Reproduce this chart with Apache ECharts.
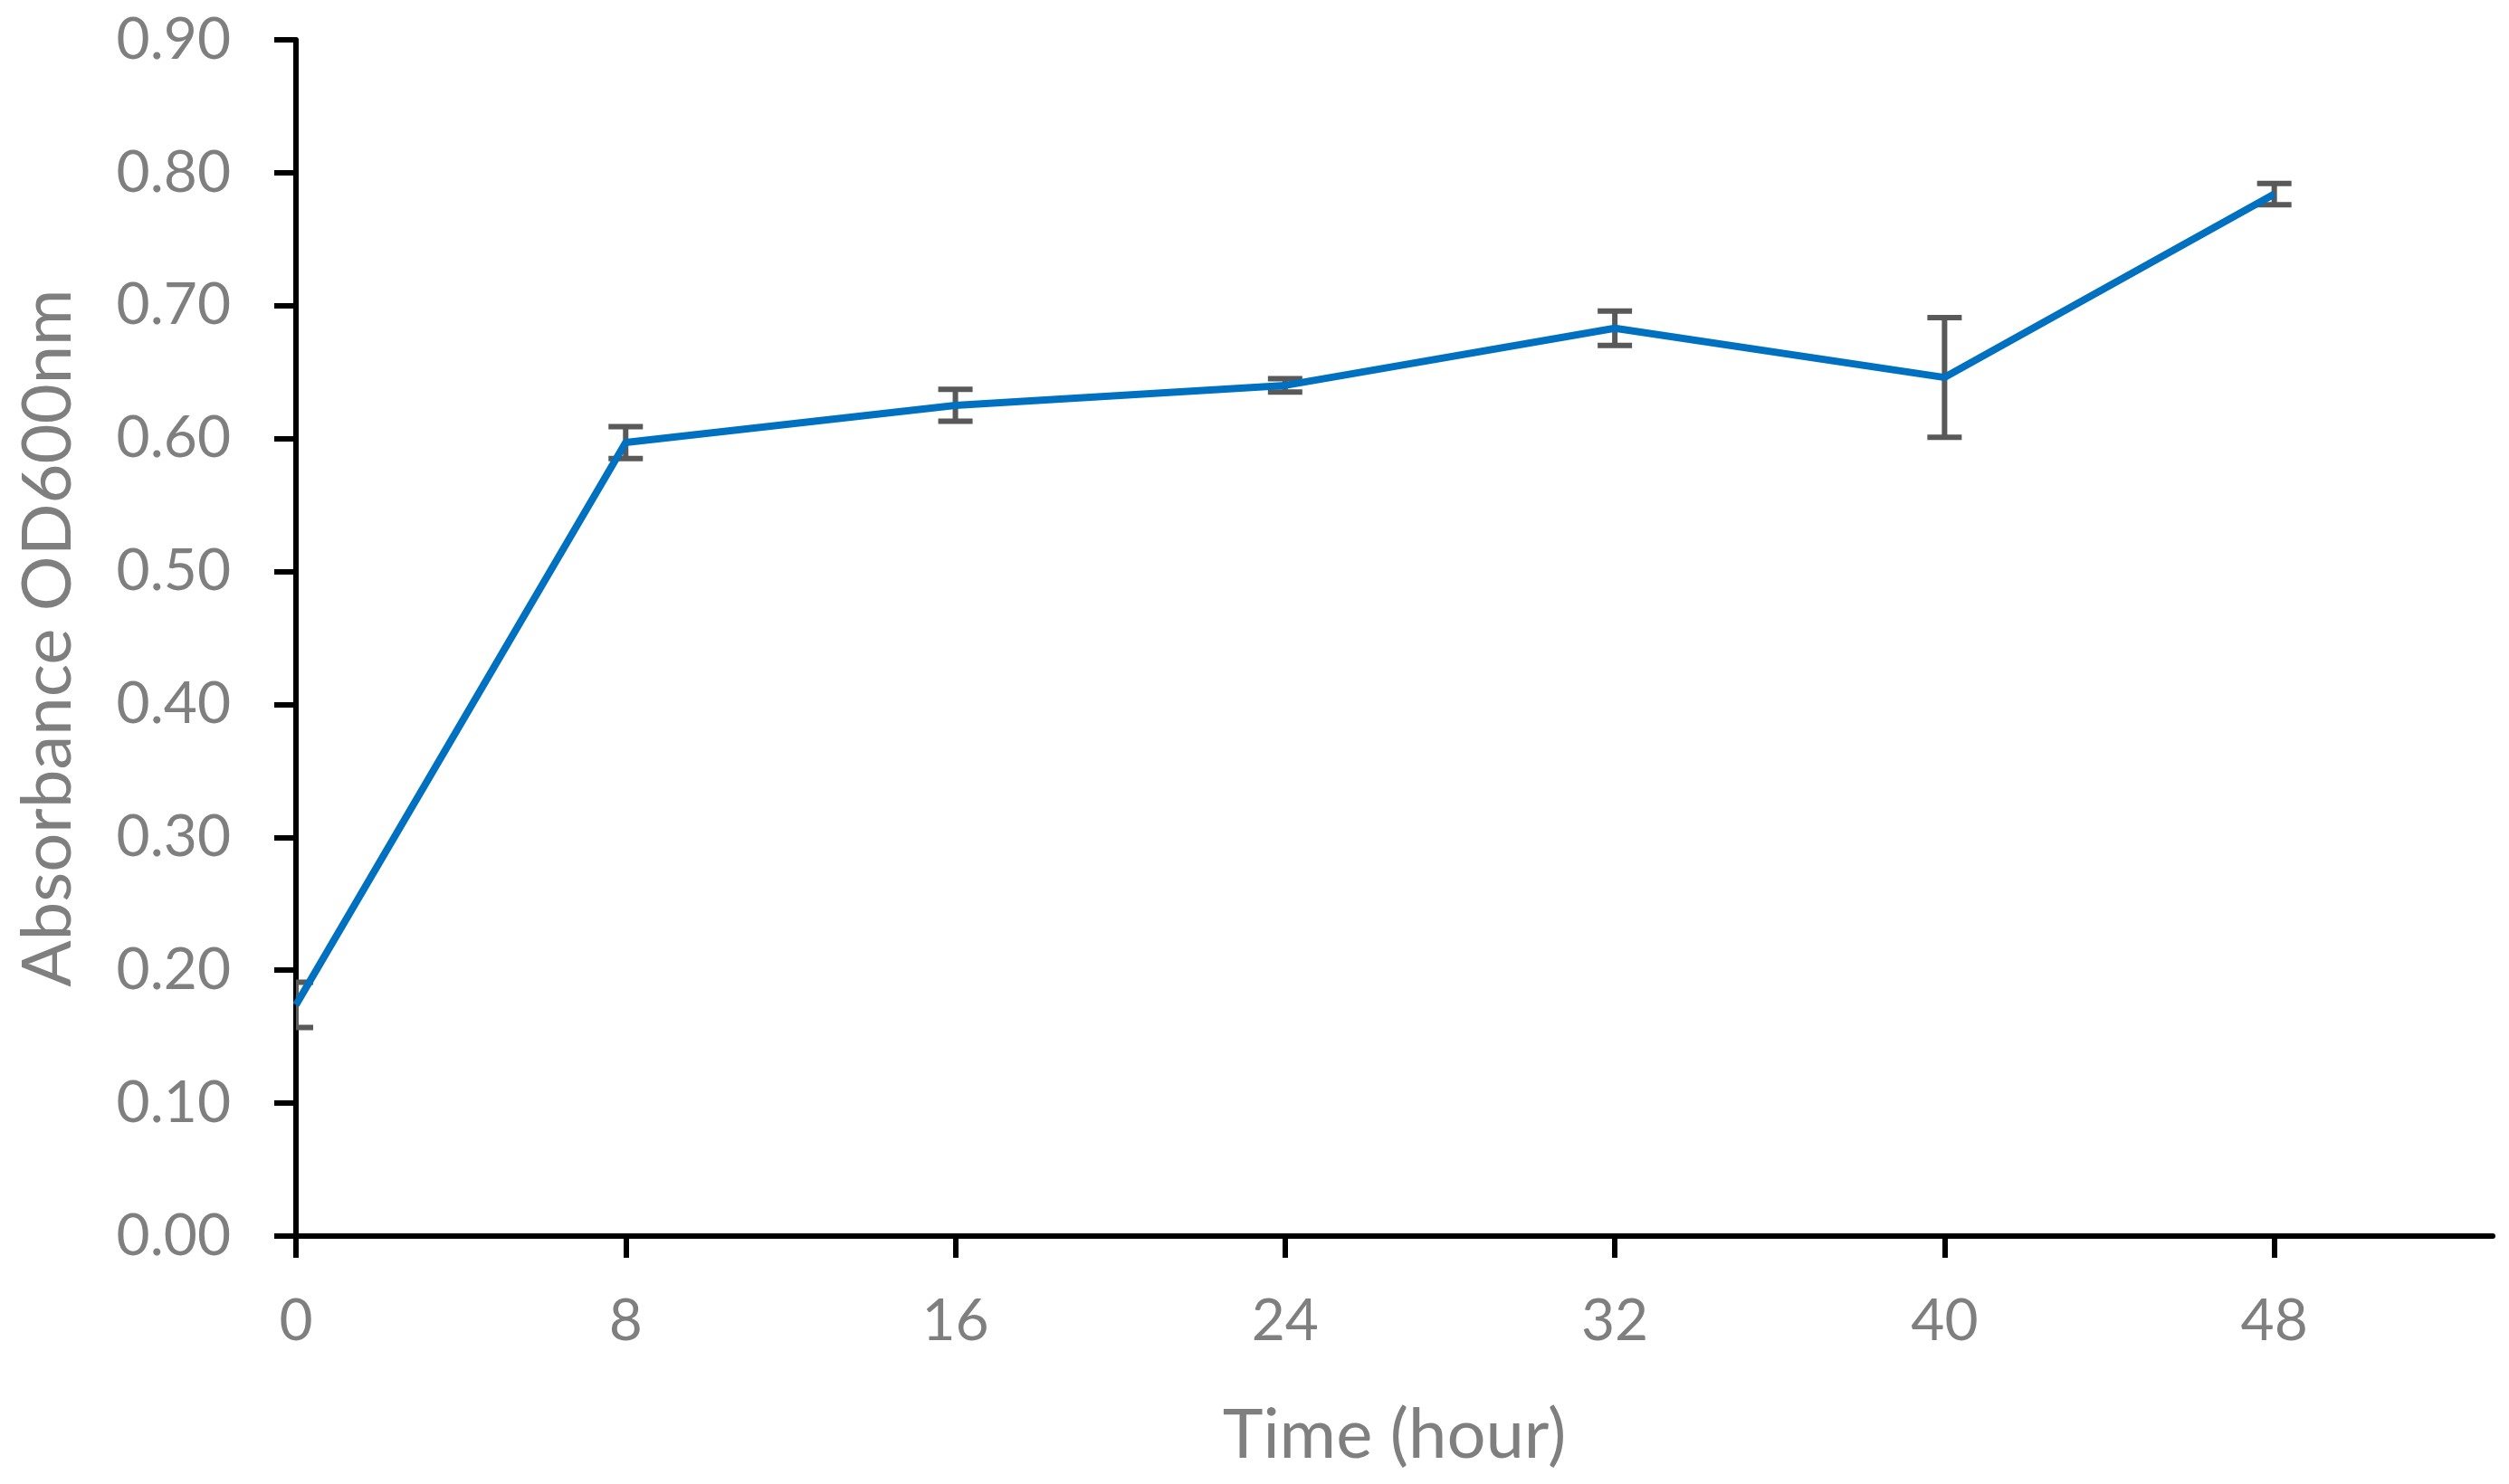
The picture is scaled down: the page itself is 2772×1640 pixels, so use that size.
<!DOCTYPE html>
<html>
<head>
<meta charset="utf-8">
<style>
  html, body { margin: 0; padding: 0; background: #fff; }
  #chart { width: 2772px; height: 1640px; }
</style>
<script src="https://cdn.jsdelivr.net/npm/echarts@6/dist/echarts.min.js"></script>
</head>
<body>
<div id="chart"></div>
<script>
var hours = [0, 8, 16, 24, 32, 40, 48];
var absorbance = [0.174, 0.597, 0.625, 0.640, 0.683, 0.646, 0.784];
var stdError = [0.017, 0.012, 0.012, 0.005, 0.013, 0.045, 0.008];
var xTicks = [0, 8, 16, 24, 32, 40, 48];

var myChart = echarts.init(document.getElementById('chart'), null, { renderer: 'canvas' });

var labelColor = '#7f7f7f';
var fontName = 'Lato';

// line points and error bar ranges
var lineData = hours.map(function (h, i) { return [h, absorbance[i]]; });
var errData = hours.map(function (h, i) {
  return [h, absorbance[i] - stdError[i], absorbance[i] + stdError[i]];
});

function renderErrorBar(params, api) {
  var x = api.value(0);
  var low = api.coord([x, api.value(1)]);
  var high = api.coord([x, api.value(2)]);
  var half = 19;
  var style = { stroke: '#595959', lineWidth: 6 };
  return {
    type: 'group',
    children: [
      { type: 'line', shape: { x1: high[0], y1: high[1], x2: low[0], y2: low[1] }, style: style },
      { type: 'line', shape: { x1: high[0] - half, y1: high[1], x2: high[0] + half, y2: high[1] }, style: style },
      { type: 'line', shape: { x1: low[0] - half, y1: low[1], x2: low[0] + half, y2: low[1] }, style: style }
    ]
  };
}

var option = {
  animation: false,
  backgroundColor: '#ffffff',
  grid: { left: 327, right: 18, top: 44, bottom: 274, containLabel: false },
  xAxis: {
    type: 'value',
    min: 0,
    max: 53.3,
    name: 'Time (hour)',
    nameLocation: 'middle',
    nameGap: 182,
    nameTextStyle: { color: labelColor, fontFamily: fontName, fontSize: 76 },
    axisLine: { show: true, lineStyle: { color: '#000', width: 6 } },
    axisTick: { show: true, customValues: xTicks, length: 24, lineStyle: { color: '#000', width: 6 } },
    axisLabel: {
      customValues: xTicks,
      color: labelColor, fontFamily: fontName, fontSize: 64, margin: 62
    },
    splitLine: { show: false }
  },
  yAxis: {
    type: 'value',
    min: 0,
    max: 0.9,
    interval: 0.1,
    name: 'Absorbance OD600nm',
    nameLocation: 'middle',
    nameGap: 236,
    nameTextStyle: { color: labelColor, fontFamily: fontName, fontSize: 76 },
    axisLine: { show: true, lineStyle: { color: '#000', width: 6 } },
    axisTick: { show: true, length: 24, lineStyle: { color: '#000', width: 6 } },
    axisLabel: {
      color: labelColor, fontFamily: fontName, fontSize: 64, margin: 72,
      formatter: function (v) { return v.toFixed(2); }
    },
    splitLine: { show: false }
  },
  series: [
    {
      name: 'Error',
      type: 'custom',
      renderItem: renderErrorBar,
      data: errData,
      clip: true,
      z: 2
    },
    {
      name: 'OD600',
      type: 'line',
      data: lineData,
      showSymbol: false,
      symbol: 'none',
      lineStyle: { color: '#0070C0', width: 8 },
      z: 3
    }
  ]
};

myChart.setOption(option);
window.addEventListener('resize', myChart.resize);
</script>
</body>
</html>
